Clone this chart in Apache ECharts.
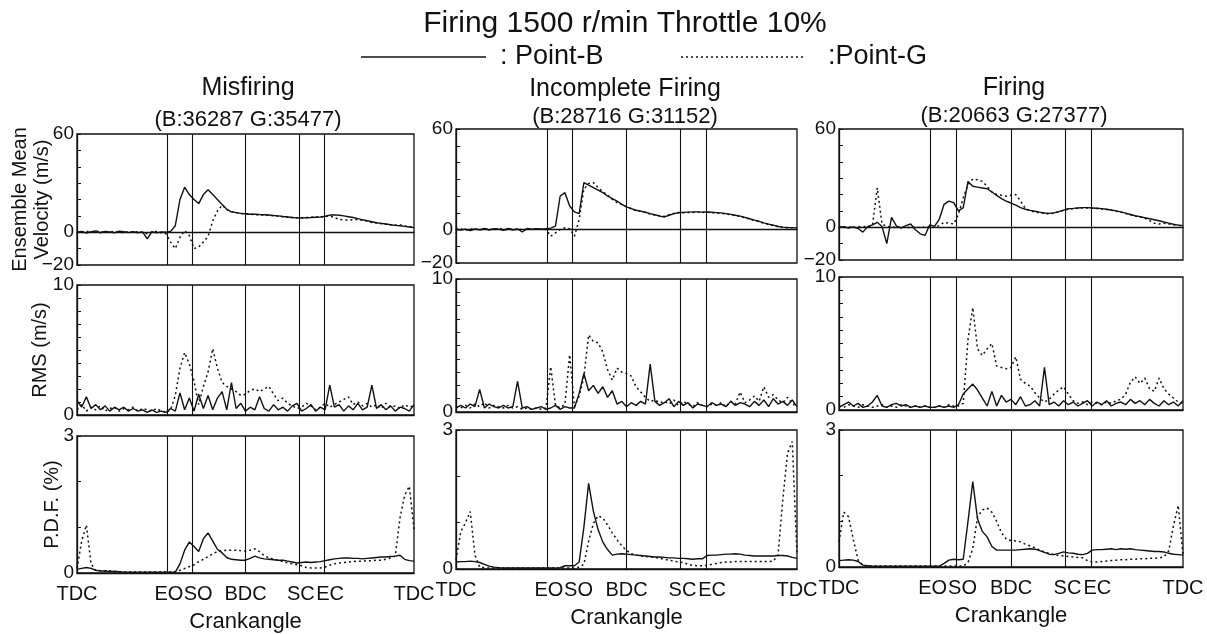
<!DOCTYPE html>
<html>
<head>
<meta charset="utf-8">
<title>Firing 1500 r/min Throttle 10%</title>
<script src="https://cdn.jsdelivr.net/npm/echarts@6/dist/echarts.min.js"></script>
<style>
  html, body { margin: 0; padding: 0; background: #fff; }
  #chart { width: 1207px; height: 634px; }
</style>
</head>
<body>
<div id="chart"></div>
<script>
// crank angle in degrees, TDC (0) to TDC (360), 5 deg steps
const angles = [0,5,10,15,20,25,30,35,40,45,50,55,60,65,70,75,80,85,90,95,100,105,110,115,120,125,130,135,140,145,150,155,160,165,170,175,180,185,190,195,200,205,210,215,220,225,230,235,240,245,250,255,260,265,270,275,280,285,290,295,300,305,310,315,320,325,330,335,340,345,350,355,360];
const markAngles = [96, 123, 180, 237, 264];
const xTickValues = [0, 96, 123, 180, 237, 264, 360];
const xTickLabels = ['TDC', 'EO', 'SO', 'BDC', 'SC', 'EC', 'TDC'];
const caseNames = ['Misfiring', 'Incomplete Firing', 'Firing'];
const caseCounts = ['(B:36287 G:35477)', '(B:28716 G:31152)', '(B:20663 G:27377)'];
const seriesNames = ['Point-B', 'Point-G'];

// Misfiring
const velB_mis = [0,0.5,-0.5,0.3,0.8,-0.3,0.5,0.2,-0.4,0.6,
  0.3,-0.2,0.4,-0.3,0.2,-4,0.3,-0.4,0.2,0,
  0.5,4,20,27.5,23,20,17.5,23,26,23,
  20,17,14,12.5,12,11.5,11.3,11,11,10.8,
  10.7,10.5,10.2,10,9.6,9.3,9,8.8,8.7,8.9,
  9,9.2,9.3,9.8,10.5,10.6,10.4,10,9.5,9,
  8.3,7.6,7,6.4,5.8,5.4,5,4.6,4.2,4,
  3.6,3.2,2.8];
const velG_mis = [0.3,-0.3,0.6,0,0.4,0.5,-0.2,0.6,0.1,0.3,
  -0.4,0.5,0,0.3,-0.2,-1,0.2,0.4,-0.3,-1,
  -6,-10,-3,1,-2,-10,-9,-6,-2.5,7,
  13,16.5,14,12.5,12,11.5,11.2,11,10.8,10.6,
  10.4,10.3,10,9.8,9.5,9.2,9,8.9,8.8,9,
  9.2,9.3,9.4,9.6,10,9,7.8,7.5,7.4,7.6,
  7.8,7.3,6.8,6,5.6,5.2,4.9,4.6,4.4,4.5,
  3.8,3.5,3];
const rmsB_mis = [1.1,0.6,1.4,0.5,0.8,0.4,0.7,0.3,0.6,0.4,
  0.6,0.3,0.5,0.3,0.4,0.2,0.4,0.2,0.3,0.2,
  0.5,0.3,1.7,0.4,1.3,0.3,1.6,0.5,1.5,0.4,
  1.3,1.8,0.4,2.5,0.5,0.9,0.3,0.6,0.4,1.4,
  0.5,0.3,0.8,0.4,0.6,0.3,0.7,0.9,0.3,0.5,
  0.8,0.3,0.6,0.4,2.3,0.6,0.8,0.3,0.7,0.4,
  0.9,0.4,0.6,2.3,0.5,0.8,0.4,0.7,0.3,0.6,
  0.5,0.3,0.8];
const rmsG_mis = [0.4,0.8,0.3,0.6,0.4,0.7,0.3,0.5,0.6,0.3,
  0.5,0.4,0.6,0.3,0.5,0.4,0.3,0.5,0.3,0.2,
  0.4,1.5,3.6,4.8,3.9,2.6,0.8,2.2,3.3,5.1,
  3.6,2.5,2.2,2,1.8,1.5,1.6,1.9,2,1.8,
  2,2.2,1.6,1.1,1.3,0.9,0.7,0.5,0.6,0.9,
  0.7,0.4,0.6,0.9,0.6,0.8,1,1.2,1.4,0.8,
  1,0.7,0.9,0.6,0.8,0.5,0.9,0.6,0.7,0.5,
  0.8,0.6,0.7];
const pdfB_mis = [0.08,0.1,0.12,0.1,0.06,0.04,0.05,0.03,0.04,0.03,
  0.02,0.02,0.02,0.02,0.02,0.02,0.02,0.02,0.02,0.02,
  0.02,0.02,0.2,0.5,0.68,0.58,0.47,0.75,0.88,0.7,
  0.52,0.44,0.34,0.3,0.29,0.28,0.28,0.32,0.37,0.33,
  0.31,0.3,0.29,0.28,0.28,0.26,0.24,0.22,0.23,0.24,
  0.23,0.24,0.25,0.27,0.29,0.31,0.32,0.33,0.33,0.32,
  0.32,0.31,0.32,0.33,0.34,0.35,0.35,0.36,0.37,0.39,
  0.3,0.27,0.26];
const pdfG_mis = [0.1,0.7,1.05,0.2,0.06,0.05,0.04,0.05,0.03,0.03,
  0.02,0.02,0.02,0.02,0.02,0.02,0.02,0.02,0.02,0.02,
  0.02,0.03,0.06,0.1,0.14,0.18,0.25,0.3,0.36,0.42,
  0.47,0.49,0.5,0.5,0.5,0.49,0.48,0.5,0.53,0.47,
  0.38,0.33,0.3,0.28,0.25,0.22,0.2,0.18,0.16,0.12,
  0.11,0.11,0.11,0.13,0.17,0.2,0.22,0.23,0.24,0.25,
  0.26,0.26,0.27,0.27,0.28,0.28,0.3,0.33,0.37,1.2,
  1.7,1.9,0.96];

// Incomplete firing
const velB_inc = [0,-0.3,0.2,-0.6,0.3,-0.2,0.6,-0.4,0.5,0.2,
  -0.5,0.6,-0.3,0.4,-1.5,0.6,0.2,0.5,0.3,0.5,
  0.8,2,20,22,14,10.5,9.5,28,26.5,25,
  23.5,22,20,18.5,17,15,13.5,12.5,11.5,11,
  10.3,9.5,8.8,8,7.5,8.5,9.5,10,10.2,10.4,
  10.5,10.5,10.4,10.5,10.3,10.1,9.9,9.5,9,8.5,
  8,7.2,6.4,5.6,4.9,4,3.2,2.6,1.8,1.4,
  1.2,1.1,1];
const velG_inc = [0.2,0.3,-0.4,0.2,0.5,-0.3,0.2,0.4,-0.3,0.6,
  0.1,-0.2,0.5,-0.4,0.3,-0.2,0.4,0.1,0.2,0,
  -4,-2,0,1,0.5,-4,6,24,27.5,28,
  25,22.5,20.5,18,16,15,13.5,12.5,11.3,10.8,
  10.1,9.3,8.6,8.2,7.8,8.8,9.6,10.1,10,10.2,
  10.2,10.4,10.2,10.3,10.1,9.8,9.6,9.3,8.8,8.3,
  7.8,7,6.2,5.4,4.6,3.8,3,2.3,1.7,1.2,
  1,1.1,0.9];
const rmsB_inc = [0.3,0.5,0.3,0.6,0.4,1.7,0.3,0.6,0.4,0.3,
  0.5,0.3,0.4,2.3,0.3,0.4,0.2,0.3,0.4,0.2,
  0.3,0.5,0.2,0.4,0.3,0.3,1.4,2.9,1.6,2,
  1.4,1.9,1.1,1.6,0.6,0.8,0.4,0.7,0.5,0.8,
  0.6,3.6,0.8,0.5,0.7,1,0.4,0.8,0.5,0.7,
  0.3,0.6,0.5,0.4,0.7,0.5,0.6,0.4,0.8,0.5,
  0.7,0.6,0.4,0.8,0.5,0.9,0.4,1,0.6,0.8,
  0.5,0.9,0.4];
const rmsG_inc = [0.4,0.3,0.5,0.3,0.6,0.4,0.7,0.3,0.5,0.4,
  0.3,0.5,0.3,0.4,0.2,0.3,0.2,0.3,0.2,0.3,
  3.4,0.5,0.3,0.6,4.3,0.4,1.2,2.6,5.8,5.3,
  5.2,4.5,3.2,2.4,3.3,3,2.9,2.7,1.9,1.5,
  1.1,0.8,0.9,0.7,0.8,0.6,0.9,0.5,0.8,0.6,
  0.4,0.7,0.5,0.4,0.6,0.5,0.7,0.4,0.8,0.6,
  1.5,0.7,0.9,1.2,0.8,1.9,1.1,1.3,0.9,0.7,
  1.1,0.6,0.5];
const pdfB_inc = [0.15,0.16,0.16,0.17,0.16,0.14,0.1,0.06,0.04,0.03,
  0.02,0.02,0.02,0.02,0.02,0.02,0.02,0.02,0.02,0.02,
  0.02,0.02,0.03,0.07,0.07,0.07,0.15,0.9,1.85,1.25,
  0.85,0.58,0.42,0.3,0.32,0.33,0.32,0.31,0.3,0.29,
  0.28,0.27,0.26,0.26,0.25,0.24,0.24,0.23,0.23,0.22,
  0.21,0.22,0.22,0.29,0.3,0.3,0.31,0.32,0.32,0.33,
  0.32,0.3,0.29,0.28,0.28,0.28,0.28,0.28,0.29,0.29,
  0.28,0.25,0.23];
const pdfG_inc = [0.2,0.8,1,1.24,0.3,0.04,0.03,0.02,0.02,0.02,
  0.02,0.02,0.02,0.02,0.02,0.02,0.02,0.02,0.02,0.02,
  0.02,0.02,0.02,0.02,0.02,0.02,0.04,0.1,0.6,0.98,
  1.15,1.1,0.95,0.78,0.63,0.5,0.4,0.33,0.3,0.28,
  0.27,0.26,0.25,0.23,0.21,0.19,0.17,0.15,0.14,0.1,
  0.08,0.07,0.07,0.08,0.1,0.12,0.14,0.15,0.15,0.16,
  0.16,0.16,0.16,0.16,0.16,0.16,0.16,0.17,0.3,1.5,
  2.5,2.75,0.3];

// Firing
const velB_fir = [0,0.3,-0.5,0.2,-0.8,-3,0.4,1.5,3,0.5,
  -10,6,0.8,-0.5,1,2,-1.5,-4,-5,1.5,
  0.5,5,14,16,15,10,12,28,25,24.5,
  24,23.5,21.5,19.5,17.5,16,14.8,13.5,12,11,
  10.3,9.8,9.2,8.7,8.5,8.8,9.5,10.5,11.3,11.5,
  11.8,12,12,11.8,11.6,11.4,11,10.5,10,9.4,
  8.6,7.8,7,6.5,5.8,5.2,4.6,4,3.2,2.5,
  1.8,1.3,1];
const velG_fir = [0.3,-0.2,0.4,-0.3,0.5,0.2,0.6,1,24,2,
  0.5,0.3,-0.3,0.4,0.2,-0.4,0.3,-0.2,0.1,0.2,
  0,1,3,2.5,2,8,18,26,29.5,29,
  28,25,21.5,20,19.5,19,19.5,20,16,11.5,
  10,9.3,8.8,8.4,8.2,8.6,9.4,10.3,11,11.3,
  11.6,11.8,11.8,11.6,11.4,11.1,10.8,10.3,9.8,9.2,
  8.4,7.6,6.8,6.2,5.5,4,2.5,2,2.5,2,
  1.5,1.2,0.9];
const rmsB_fir = [0.2,0.4,0.6,0.3,0.5,0.2,0.3,0.6,1.1,0.3,
  0.2,0.4,0.5,0.3,0.4,0.2,0.3,0.2,0.3,0.2,
  0.2,0.3,0.2,0.3,0.2,0.4,1.2,1.6,1.95,1.5,
  0.9,0.3,1.4,0.3,1.1,0.6,0.8,0.4,1,0.3,
  0.4,0.7,0.3,3.2,0.4,0.6,0.3,0.7,0.4,0.6,
  0.3,0.5,0.7,0.3,0.6,0.4,0.7,0.3,0.5,0.6,
  0.4,0.8,0.5,0.7,0.4,0.8,0.5,0.3,0.7,0.4,
  0.6,0.3,0.7];
const rmsG_fir = [0.3,0.2,0.4,0.3,0.2,0.4,0.3,0.2,0.3,0.4,
  0.2,0.3,0.2,0.4,0.3,0.2,0.3,0.2,0.3,0.2,
  0.2,0.3,0.2,0.4,0.3,0.3,0.5,5.3,7.7,4.6,
  4.1,4.6,5,3.3,3.2,3.1,3.2,4,2.3,2,
  1.8,1.3,0.9,0.6,0.8,1.2,1.5,1.75,1.2,0.7,
  0.5,0.6,0.4,0.6,0.5,0.4,0.6,0.5,0.7,0.8,
  1.2,2.1,2.5,2,2.4,1.6,1.4,2.4,1.6,1.2,
  0.9,0.6,0.5];
const pdfB_fir = [0.14,0.15,0.16,0.15,0.12,0.04,0.03,0.02,0.02,0.02,
  0.02,0.02,0.02,0.02,0.02,0.02,0.02,0.02,0.02,0.02,
  0.02,0.02,0.08,0.15,0.17,0.16,0.17,1,1.87,1.05,
  0.78,0.66,0.45,0.37,0.37,0.37,0.37,0.37,0.38,0.39,
  0.4,0.39,0.36,0.32,0.28,0.27,0.3,0.33,0.31,0.3,
  0.28,0.27,0.3,0.37,0.38,0.38,0.39,0.4,0.38,0.4,
  0.39,0.4,0.38,0.37,0.36,0.35,0.34,0.34,0.33,0.3,
  0.28,0.27,0.26];
const pdfG_fir = [0.55,1.2,1.1,0.6,0.15,0.03,0.02,0.02,0.02,0.02,
  0.02,0.02,0.02,0.02,0.02,0.02,0.02,0.02,0.02,0.02,
  0.02,0.02,0.02,0.02,0.02,0.02,0.02,0.1,0.4,1.1,
  1.25,1.29,1.2,1,0.75,0.61,0.58,0.57,0.55,0.5,
  0.46,0.42,0.37,0.33,0.3,0.27,0.25,0.24,0.23,0.22,
  0.21,0.2,0.14,0.11,0.11,0.12,0.13,0.14,0.15,0.16,
  0.16,0.17,0.17,0.18,0.18,0.19,0.19,0.2,0.22,0.35,
  0.9,1.35,0.26];

const caseData = [
  [[velB_mis, velG_mis], [rmsB_mis, rmsG_mis], [pdfB_mis, pdfG_mis]],
  [[velB_inc, velG_inc], [rmsB_inc, rmsG_inc], [pdfB_inc, pdfG_inc]],
  [[velB_fir, velG_fir], [rmsB_fir, rmsG_fir], [pdfB_fir, pdfG_fir]]
];

// panel frames (it is a little skewed)
const cols = [
  { left: 77, width: 337, rows: [[134, 265], [285, 415], [436, 573]], cx: 248, ty: [88, 120] },
  { left: 456, width: 341, rows: [[129, 263], [279, 412], [430, 569]], cx: 625, ty: [89, 117] },
  { left: 839, width: 344, rows: [[129, 260], [277, 410], [430, 567]], cx: 1014, ty: [88, 116] }
];
const rowAxes = [
  { min: -20, max: 60, interval: 10, labels: [-20, 0, 60], name: 'Ensemble Mean\nVelocity (m/s)', gap: 24 },
  { min: 0, max: 10, interval: 1, labels: [0, 10], name: 'RMS (m/s)', gap: 26 },
  { min: 0, max: 3, interval: 1, labels: [0, 3], name: 'P.D.F. (%)', gap: 14 }
];

const FONT = 'Liberation Sans';
const INK = '#111';
const DOTS = [2, 3];
const font = size => size + 'px "' + FONT + '"';

let grid = [], xAxis = [], yAxis = [], series = [], graphic = [];

// main title and hand-made legend (long line samples like the scan)
graphic.push({
  type: 'text', x: 625, y: 24,
  style: { text: 'Firing 1500 r/min Throttle 10%', font: font(30), fill: INK, align: 'center', verticalAlign: 'middle' }
});
graphic.push({ type: 'line', shape: { x1: 361, y1: 57, x2: 486, y2: 57 }, style: { stroke: INK, lineWidth: 1.5 } });
graphic.push({
  type: 'text', x: 500, y: 57,
  style: { text: ': ' + seriesNames[0], font: font(27), fill: INK, align: 'left', verticalAlign: 'middle' }
});
graphic.push({ type: 'line', shape: { x1: 681, y1: 57, x2: 806, y2: 57 }, style: { stroke: INK, lineWidth: 1.5, lineDash: DOTS } });
graphic.push({
  type: 'text', x: 828, y: 57,
  style: { text: ':' + seriesNames[1], font: font(27), fill: INK, align: 'left', verticalAlign: 'middle' }
});

// the second label of each close pair (SO, EC) sits a bit right of its line
const xLabel = v => {
  const t = xTickLabels[xTickValues.indexOf(v)];
  if (t === 'SO' || t === 'EC') return '{r|' + t + '}';
  if (t === 'EO' || t === 'SC') return '{l|' + t + '}';
  return t;
};

cols.forEach((c, ci) => {
  graphic.push({
    type: 'text', x: c.cx, y: c.ty[0],
    style: { text: caseNames[ci], font: font(25), fill: INK, align: 'center', verticalAlign: 'middle' }
  });
  graphic.push({
    type: 'text', x: c.cx, y: c.ty[1],
    style: { text: caseCounts[ci], font: font(22), fill: INK, align: 'center', verticalAlign: 'middle' }
  });

  c.rows.forEach((r, ri) => {
    const idx = grid.length;
    const ax = rowAxes[ri];
    const last = ri === 2;
    grid.push({
      left: c.left, top: r[0], width: c.width, height: r[1] - r[0],
      show: true, borderColor: INK, borderWidth: 1.3, backgroundColor: 'transparent'
    });
    xAxis.push({
      type: 'value', gridIndex: idx, min: 0, max: 360,
      axisLine: { show: true, lineStyle: { color: INK, width: 1.3 } },
      axisTick: { show: false },
      splitLine: { show: false },
      axisLabel: {
        show: last, customValues: xTickValues, margin: 11,
        fontFamily: FONT, fontSize: 20, color: INK,
        formatter: xLabel,
        rich: {
          r: { fontFamily: FONT, fontSize: 20, color: INK, padding: [0, 0, 0, 12] },
          l: { fontFamily: FONT, fontSize: 20, color: INK, padding: [0, 0, 0, 4] }
        }
      },
      name: last ? 'Crankangle' : '', nameLocation: 'middle', nameGap: 38,
      nameMoveOverlap: false,
      nameTextStyle: { fontFamily: FONT, fontSize: 22, color: INK }
    });
    yAxis.push({
      type: 'value', gridIndex: idx, min: ax.min, max: ax.max, interval: ax.interval,
      axisLine: { show: true, lineStyle: { color: INK, width: 1.3 } },
      axisTick: { show: true, inside: true, length: 4, lineStyle: { color: INK } },
      splitLine: { show: false },
      axisLabel: {
        customValues: ax.labels, margin: 3,
        fontFamily: FONT, fontSize: 19, color: INK,
        formatter: v => (v < 0 ? '\u2212' + (-v) : '' + v)
      },
      name: ci === 0 ? ax.name : '', nameLocation: 'middle', nameGap: ax.gap,
      nameMoveOverlap: false,
      nameTextStyle: { fontFamily: FONT, fontSize: 20, lineHeight: 22, color: INK }
    });

    const pair = caseData[ci][ri];
    const marks = markAngles.map(a => ({ xAxis: a }));
    if (ri === 0) marks.push({ yAxis: 0 });
    series.push({
      name: seriesNames[0], type: 'line', xAxisIndex: idx, yAxisIndex: idx,
      data: angles.map((a, k) => [a, pair[0][k]]),
      symbol: 'none', lineStyle: { color: INK, width: 1.4 },
      emphasis: { disabled: true },
      markLine: {
        silent: true, symbol: ['none', 'none'], label: { show: false },
        lineStyle: { color: INK, type: 'solid', width: 1.1 },
        emphasis: { disabled: true },
        data: marks
      },
      z: 3
    });
    series.push({
      name: seriesNames[1], type: 'line', xAxisIndex: idx, yAxisIndex: idx,
      data: angles.map((a, k) => [a, pair[1][k]]),
      symbol: 'none', lineStyle: { color: INK, width: 1.5, type: DOTS },
      emphasis: { disabled: true },
      z: 2
    });
  });
});

const chart = echarts.init(document.getElementById('chart'));
chart.setOption({
  backgroundColor: '#fff',
  animation: false,
  textStyle: { fontFamily: FONT },
  grid: grid,
  xAxis: xAxis,
  yAxis: yAxis,
  series: series,
  graphic: graphic
});
</script>
</body>
</html>
